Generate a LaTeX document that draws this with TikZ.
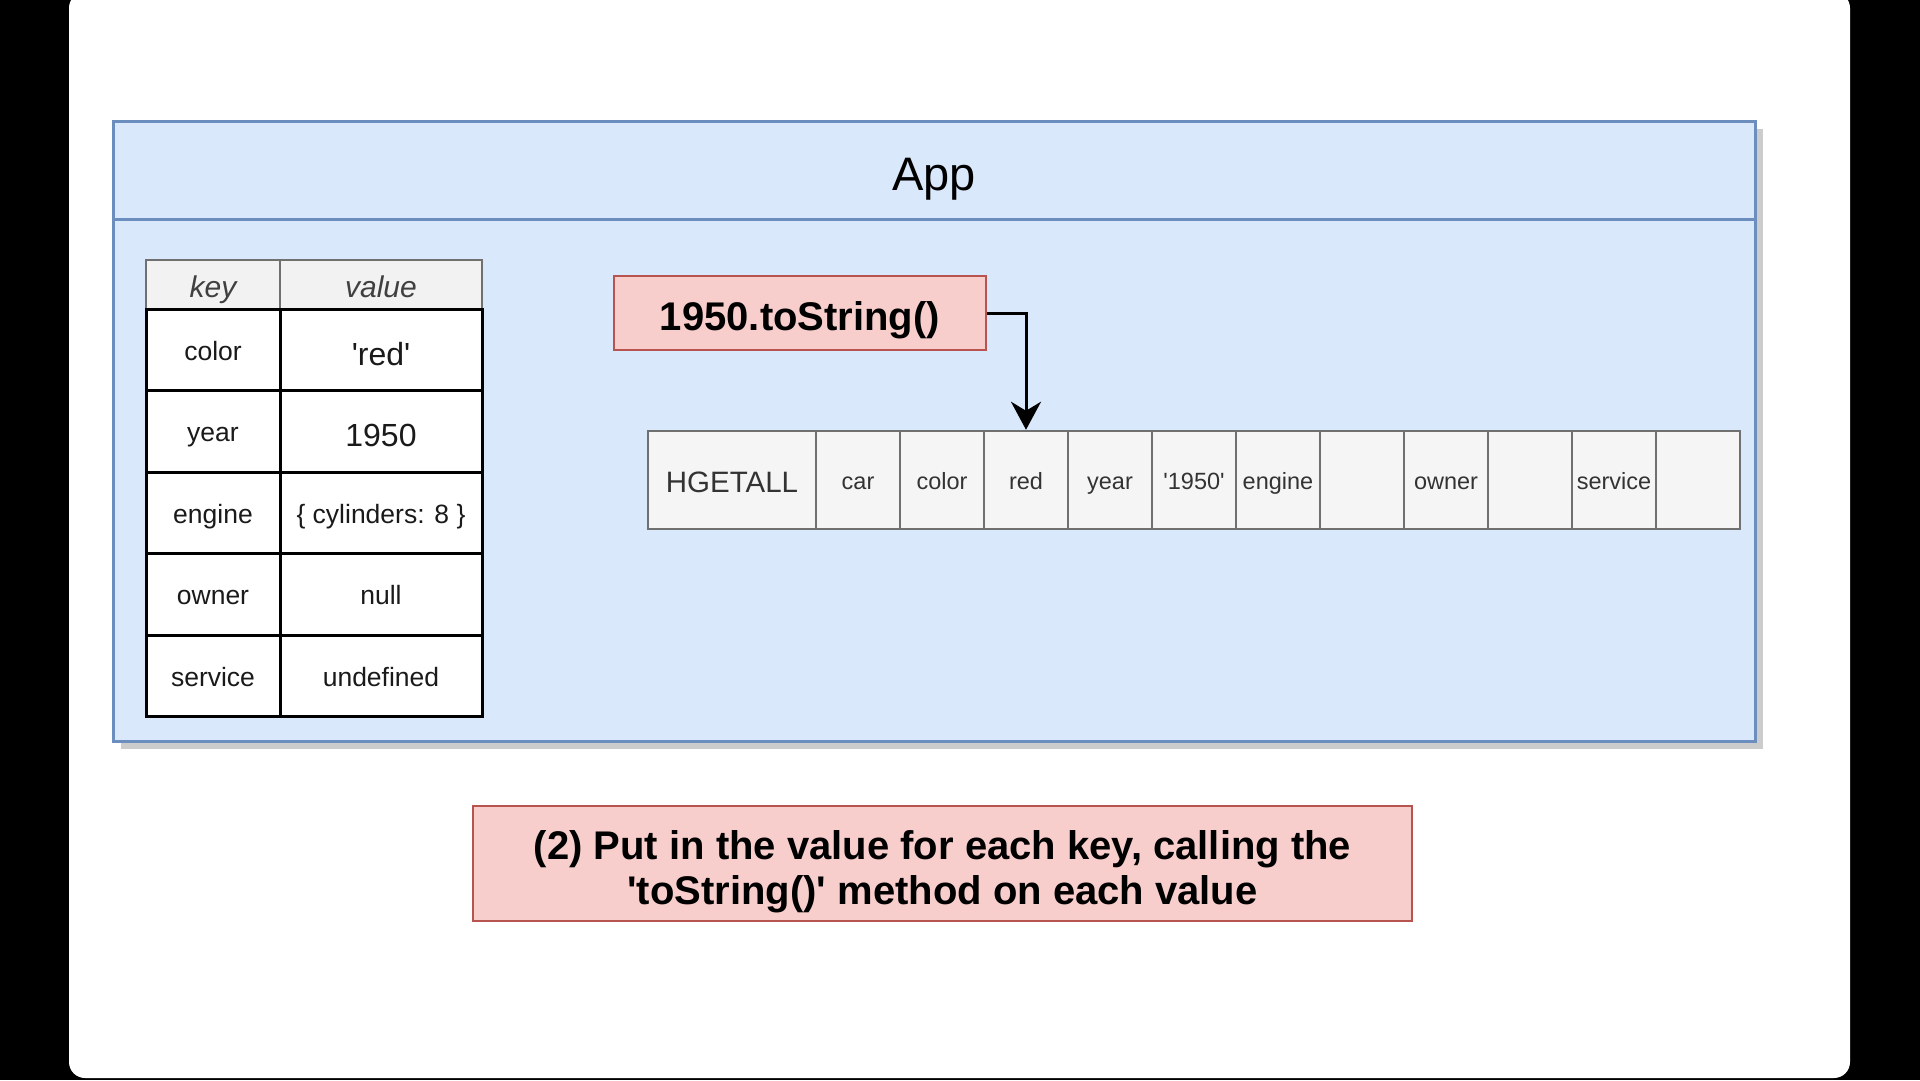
\documentclass[tikz,border=0pt]{standalone}
\usepackage{fontspec}
\setmainfont{Liberation Sans}
\usepackage{xcolor}
\usepackage{tikz}
\usetikzlibrary{positioning,arrows.meta}

\definecolor{appfill}{HTML}{DAE8FC}
\definecolor{appline}{HTML}{6C8EBF}
\definecolor{notefill}{HTML}{F8CECC}
\definecolor{noteline}{HTML}{B85450}
\definecolor{cellfill}{HTML}{F5F5F5}
\definecolor{cellline}{HTML}{707070}
\definecolor{hdrfill}{HTML}{F2F2F2}
\definecolor{inktext}{HTML}{1A1A1A}

\newcommand{\sq}{\textquotesingle}

\begin{document}
\begin{tikzpicture}[x=1pt, y=-1pt,
  apphead/.style={draw=appline, fill=appfill, line width=3pt, inner sep=0pt,
    minimum width=1642pt, minimum height=98pt},
  appbody/.style={draw=appline, fill=appfill, line width=3pt, inner sep=0pt,
    minimum width=1642pt, minimum height=522pt},
  apptitle/.style={font=\fontsize{47}{52}\selectfont, text=black},
  keyhdr/.style={draw=cellline, fill=hdrfill, line width=2pt, inner sep=0pt,
    minimum width=134pt, minimum height=49pt, text=black!75,
    text height=25pt, text depth=0pt,
    font=\fontsize{30}{34}\selectfont\itshape},
  valhdr/.style={keyhdr, minimum width=202pt},
  keycell/.style={draw=black, fill=white, line width=3pt, inner sep=0pt,
    minimum width=134pt, minimum height=81.5pt, text=inktext,
    text height=21pt, text depth=0pt,
    font=\fontsize{26.5}{30}\selectfont},
  valcell/.style={keycell, minimum width=202pt},
  bigval/.style={font=\fontsize{32}{36}\selectfont, text height=31pt},
  conv/.style={draw=noteline, fill=notefill, line width=2pt, inner sep=0pt,
    minimum width=372pt, minimum height=74pt,
    text height=35pt, text depth=0pt,
    font=\fontsize{40}{45}\selectfont\bfseries},
  arrcell/.style={draw=cellline, fill=cellfill, line width=2.5pt, inner sep=0pt,
    minimum width=84pt, minimum height=98pt, text=black!80,
    text height=18.5pt, text depth=0pt,
    font=\fontsize{23.5}{27}\selectfont},
  cmdcell/.style={arrcell, minimum width=168pt, text height=24pt,
    font=\fontsize{29.5}{33}\selectfont},
  notebox/.style={draw=noteline, fill=notefill, line width=2pt, inner sep=0pt,
    minimum width=939pt, minimum height=115pt, align=center,
    text height=81.8pt, text depth=0pt,
    font=\fontsize{40}{45}\selectfont\bfseries},
  arr/.style={-{Stealth[length=28pt, width=30pt, inset=9pt]}, line width=3pt},
]
\useasboundingbox (0,0) rectangle (1920,1080);
% screen and canvas
\fill[black] (0,0) rectangle (1920,1080);
\fill[white, rounded corners=16pt] (69,-8) rectangle (1850,1078);

% app container
\fill[black!20] (121,129) rectangle (1763,749);
\node[appbody] (appbody) at (934,480) {};
\node[apphead] (apphead) at (934,170) {};
\node[apptitle] (apptitle) at (934,179) {App};

% hash table
\node[keyhdr] (khdr) at (213,284.5) {key};
\node[valhdr] (vhdr) at (381,284.5) {value};
\node[keycell] (k1) at (213,349.75) {color};
\node[valcell, bigval] (v1) at (381,349.75) {\sq red\sq};
\node[keycell] (k2) at (213,431.25) {year};
\node[valcell, bigval] (v2) at (381,431.25) {1950};
\node[keycell] (k3) at (213,512.75) {engine};
\node[valcell] (v3) at (381,512.75) {\{ cylinders: 8 \}};
\node[keycell] (k4) at (213,594.25) {owner};
\node[valcell] (v4) at (381,594.25) {null};
\node[keycell] (k5) at (213,675.75) {service};
\node[valcell] (v5) at (381,675.75) {undefined};

% toString call
\node[conv] (conv) at (800,313) {1950.toString()};

% HGETALL command
\node[cmdcell] (a1) at (732,480) {HGETALL};
\node[arrcell] (a2) at (858,480) {car};
\node[arrcell] (a3) at (942,480) {color};
\node[arrcell] (a4) at (1026,480) {red};
\node[arrcell] (a5) at (1110,480) {year};
\node[arrcell] (a6) at (1194,480) {\sq 1950\sq};
\node[arrcell] (a7) at (1278,480) {engine};
\node[arrcell] (a8) at (1362,480) {};
\node[arrcell] (a9) at (1446,480) {owner};
\node[arrcell] (a10) at (1530,480) {};
\node[arrcell] (a11) at (1614,480) {service};
\node[arrcell] (a12) at (1698,480) {};
\draw[arr] (conv.east) -| (a4.north);

% step note
\node[notebox] (note) at (942.5,863.5) {(2) Put in the value for each key, calling the\\\sq toString()\sq{} method on each value};
\end{tikzpicture}
\end{document}
